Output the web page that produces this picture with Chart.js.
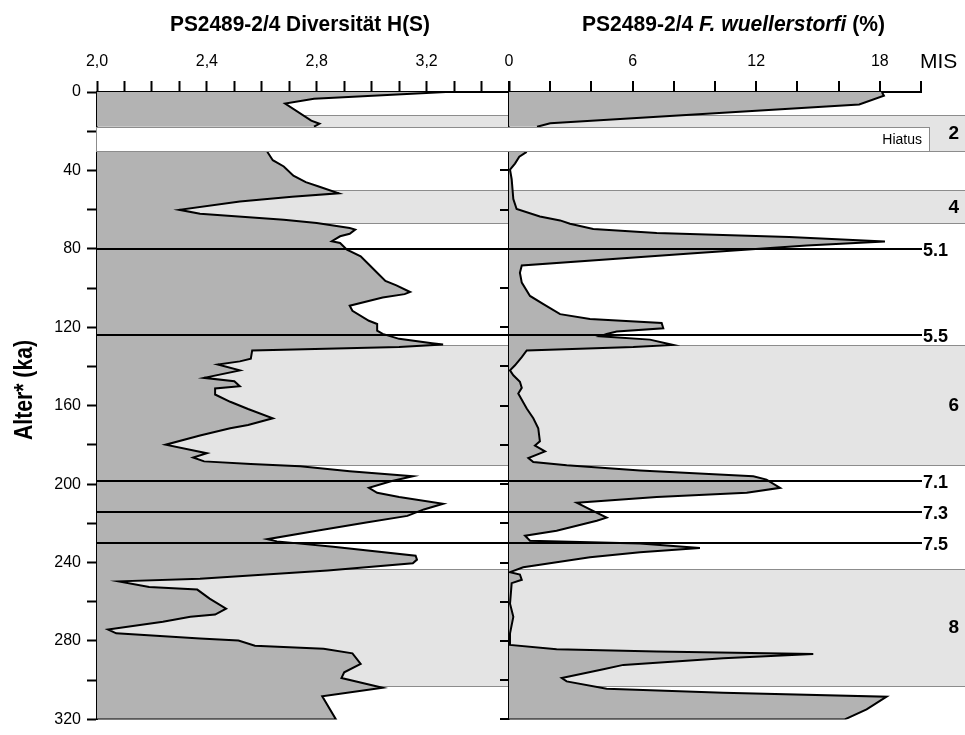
<!DOCTYPE html>
<html lang="de">
<head>
<meta charset="utf-8">
<title>PS2489-2/4</title>
<script src="https://cdn.jsdelivr.net/npm/chart.js@4.4.1/dist/chart.umd.min.js"></script>
<style>
  html, body { margin: 0; padding: 0; background: #fff; }
</style>
</head>
<body>
<canvas id="chart" width="965" height="735"></canvas>
<script>
// Alter (ka) und Shannon-Diversität H(S); null = Hiatus
const divAge = [0, 3.5, 5.9, 14.6, 16.2, 17.7, 24, 30.5, 34.8, 38, 42.7, 46, 48.3, 51.7, 53.4, 55.9, 60.1, 62.1,
  65.2, 66.8, 69.4, 70.2, 72.3, 73.6, 76.1, 77, 80.4, 83.8, 88, 92.2, 96.4, 98.6, 102, 103.1, 104.8, 109, 111.6,
  116.7, 118.3, 121.7, 123.4, 125.9, 128.1, 128.8, 130.1, 131.8, 136, 137.4, 139, 142, 145.8, 147.5, 150.1, 151.2,
  154.3, 158, 161.7, 166.4, 169.8, 171.5, 175.2, 179.9, 184.2, 186.4, 188.4, 189.7, 190.9, 193.4, 196, 198.5,
  201.9, 204.4, 206.6, 210, 212.9, 216.2, 219.6, 223.8, 228.1, 229.2, 231.9, 236.5, 238.5, 240.4, 244, 248.3,
  249.6, 252.5, 253.8, 258.4, 263.5, 266.5, 267.7, 270.2, 274.1, 276.1, 278.7, 279.8, 282.4, 284, 286.3, 291.7,
  296, 298.9, 303.9, 308.2, 320];
const divH = [3.27, 2.79, 2.685, 2.78, 2.81, 2.79, null, 2.62, 2.64, 2.68, 2.715, 2.76, 2.81, 2.88, 2.71, 2.52, 2.30, 2.375,
  2.68, 2.80, 2.92, 2.94, 2.92, 2.885, 2.855, 2.885, 2.91, 2.96, 2.99, 3.02, 3.05, 3.09, 3.14, 3.12, 3.04, 2.92, 2.93,
  2.99, 3.02, 3.02, 3.04, 3.10, 3.22, 3.26, 3.10, 2.565, 2.56, 2.52, 2.44, 2.52, 2.39, 2.50, 2.52, 2.43,
  2.43, 2.485, 2.55, 2.64, 2.55, 2.485, 2.375, 2.25, 2.40, 2.35, 2.39, 2.56, 2.74, 2.92, 3.15, 3.07,
  2.99, 3.02, 3.10, 3.26, 3.19, 3.13, 2.98, 2.80, 2.62, 2.655, 2.86, 3.16, 3.165, 3.15, 2.84, 2.375,
  2.08, 2.19, 2.365, 2.41, 2.47, 2.43, 2.34, 2.24, 2.04, 2.07, 2.375, 2.515, 2.575, 2.825, 2.93, 2.96,
  2.90, 2.89, 3.04, 2.82, 2.87];

// Alter (ka) und Anteil F. wuellerstorfi (%); null = Hiatus
const wuelAge = [0, 1.9, 6.4, 15.9, 17.7, 24, 30.5, 33, 36.5, 39.6, 44.5, 54.6, 59.7, 63.5, 65.5, 67.2, 69.9, 71.9,
  73.9, 76.3, 78.3, 82.4, 88.5, 92.2, 97.2, 104, 108.2, 113.3, 115.8, 117.8, 120.5, 122.2, 123.4, 124.6, 126.3,
  129, 130.1, 131.8, 135.2, 139.4, 142, 144.5, 147.8, 150.9, 153.8, 161.4, 166.4, 171.5, 178.2, 180.3, 183.3,
  186.7, 188.7, 190.4, 193.1, 196, 197.7, 201.9, 204.4, 206.6, 209.5, 212.9, 217.1, 218.7, 223.8, 226.3, 228.9,
  230.3, 232.6, 234.8, 237.3, 242.4, 244.9, 246.1, 248.8, 250.5, 261, 267.7, 276.1, 282, 284.2, 285.4, 286.6,
  288.8, 292.2, 294.4, 298.9, 300.6, 304.4, 306.4, 308.4, 314.9, 320];
const wuelPct = [18.1, 18.2, 17.0, 2.0, 1.36, null, 0.86, 0.5, 0.29, 0.05, 0.13, 0.21, 0.37, 1.5, 2.48, 2.96, 4.09, 7.17,
  13.6, 18.25, 14.45, 8.8, 0.62, 0.53, 0.62, 1.02, 1.67, 2.48, 3.93, 7.41, 7.49, 5.23, 4.74, 4.42, 6.84,
  7.97, 6.03, 0.86, 0.62, 0.29, 0.05, 0.21, 0.53, 0.62, 0.45, 0.86, 1.18, 1.42, 1.5, 1.26, 1.75,
  0.94, 1.18, 2.8, 6.36, 11.86, 12.5, 13.16, 11.54, 7.17, 3.29, 3.93, 4.74, 4.26, 2.31, 0.78, 1.02,
  6.36, 9.27, 6.36, 3.93, 0.69, 0.05, 0.53, 0.62, 0.13, 0.05, 0.21, 0.05, 0.05, 2.31, 7.17, 14.77,
  10.4, 5.55, 4.58, 2.56, 2.8, 4.74, 10.4, 18.33, 17.36, 16.3];

// Achsen und beschriftete Ticks
const AGE_MIN = 0, AGE_MAX = 320;
const H_MIN = 2.0, H_MAX = 3.5;
const PCT_MIN = 0, PCT_MAX = 20;
const ageTickLabels = [0, 40, 80, 120, 160, 200, 240, 280, 320];
const hTickLabels = [2.0, 2.4, 2.8, 3.2];
const pctTickLabels = [0, 6, 12, 18];

// Marine Isotopenstadien: Glaziale als Bänder, Substadien als Linien
const misBandLabels = ['2', '4', '6', '8'];
const misBandTop = [11.6, 50, 129.1, 243.1];
const misBandBottom = [30.3, 66.8, 190.3, 302.8];
const misEventLabels = ['5.1', '5.5', '7.1', '7.3', '7.5'];
const misEventAge = [80, 124, 198.5, 214, 230];
const hiatusAge = [17.7, 30.3];

const FONT = "'Liberation Sans', Arial, sans-serif";

const toPoints = (ages, vals, base) =>
  ages.map((a, i) => ({ x: vals[i], y: a })).concat([{ x: base, y: AGE_MAX }]);

// Text horizontal gestaucht auf eine Zielbreite zeichnen (schmale Schrift)
function drawFitted(ctx, parts, x, y, width) {
  let total = 0;
  parts.forEach(p => { ctx.font = p.font; total += ctx.measureText(p.text).width; });
  ctx.save();
  ctx.translate(x, y);
  ctx.scale(width / total, 1);
  ctx.textAlign = 'left';
  let cx = 0;
  parts.forEach(p => {
    ctx.font = p.font;
    ctx.fillText(p.text, cx, 0);
    cx += ctx.measureText(p.text).width;
  });
  ctx.restore();
}

const panelDecor = {
  id: 'panelDecor',
  beforeDraw(chart) {
    const { ctx, chartArea: a, scales: { y } } = chart;
    ctx.save();
    ctx.fillStyle = '#fff';
    ctx.fillRect(0, 0, chart.width, chart.height);
    misBandLabels.forEach((lab, i) => {
      const t = Math.round(y.getPixelForValue(misBandTop[i]));
      const b = Math.round(y.getPixelForValue(misBandBottom[i]));
      ctx.fillStyle = '#e4e4e4';
      ctx.fillRect(a.left, t, chart.width - a.left, b - t);
      ctx.strokeStyle = '#8c8c8c';
      ctx.lineWidth = 1;
      ctx.beginPath();
      ctx.moveTo(a.left, t + 0.5); ctx.lineTo(chart.width, t + 0.5);
      ctx.moveTo(a.left, b + 0.5); ctx.lineTo(chart.width, b + 0.5);
      ctx.stroke();
    });
    ctx.restore();
  },
  afterDatasetsDraw(chart) {
    const { ctx, chartArea: a, scales: { y } } = chart;
    ctx.save();
    ctx.strokeStyle = '#000';
    ctx.lineWidth = 2;
    ctx.fillStyle = '#000';
    ctx.font = 'bold 18px ' + FONT;
    ctx.textAlign = 'left';
    ctx.textBaseline = 'middle';
    misEventAge.forEach((age, i) => {
      const py = Math.round(y.getPixelForValue(age));
      ctx.beginPath();
      ctx.moveTo(a.left, py); ctx.lineTo(a.right + 1, py);
      ctx.stroke();
      ctx.fillText(misEventLabels[i], a.right + 2, py + 2);
    });
    ctx.restore();
  },
  afterDraw(chart) {
    const { ctx, chartArea: a, scales: { y, xF } } = chart;
    ctx.save();

    // Ticks an der Nulllinie des rechten Profils
    ctx.strokeStyle = '#000';
    ctx.lineWidth = 2;
    y.ticks.forEach(t => {
      const py = Math.round(y.getPixelForValue(t.value));
      ctx.beginPath();
      ctx.moveTo(xF.left - 9, py); ctx.lineTo(xF.left, py);
      ctx.stroke();
    });

    // Hiatus
    const ht = Math.round(y.getPixelForValue(hiatusAge[0])) + 0.5;
    const hb = Math.round(y.getPixelForValue(hiatusAge[1])) + 0.5;
    ctx.fillStyle = '#fff';
    ctx.fillRect(a.left - 1, ht, a.right + 10 - a.left, hb - ht);
    ctx.strokeStyle = '#8c8c8c';
    ctx.lineWidth = 1;
    ctx.strokeRect(a.left - 0.5, ht, a.right + 9 - a.left, hb - ht);
    ctx.fillStyle = '#000';
    ctx.font = '14px ' + FONT;
    ctx.textAlign = 'right';
    ctx.textBaseline = 'middle';
    ctx.fillText('Hiatus', a.right + 1, (ht + hb) / 2 + 1);

    // MIS-Beschriftung
    ctx.font = 'bold 19px ' + FONT;
    misBandLabels.forEach((lab, i) => {
      const mid = (y.getPixelForValue(misBandTop[i]) + y.getPixelForValue(misBandBottom[i])) / 2;
      ctx.fillText(lab, chart.width - 6, mid + 1);
    });
    ctx.font = '21px ' + FONT;
    ctx.textAlign = 'left';
    ctx.textBaseline = 'alphabetic';
    ctx.fillText('MIS', a.right - 1, 68);

    // Titel
    ctx.fillStyle = '#000';
    ctx.textBaseline = 'alphabetic';
    drawFitted(ctx, [{ text: 'PS2489-2/4 Diversität H(S)', font: 'bold 22px ' + FONT }], 170, 31, 260);
    drawFitted(ctx, [
      { text: 'PS2489-2/4 ', font: 'bold 22px ' + FONT },
      { text: 'F. wuellerstorfi', font: 'italic bold 22px ' + FONT },
      { text: ' (%)', font: 'bold 22px ' + FONT }
    ], 582, 31, 303);

    ctx.save();
    ctx.translate(32, 440);
    ctx.rotate(-Math.PI / 2);
    drawFitted(ctx, [{ text: 'Alter* (ka)', font: 'bold 25px ' + FONT }], 0, 0, 100);
    ctx.restore();

    ctx.restore();
  }
};

const tickFont = { family: FONT, size: 16 };
const isLabelled = (list, v) => list.some(t => Math.abs(t - v) < 1e-6);

new Chart(document.getElementById('chart'), {
  type: 'line',
  data: {
    datasets: [
      {
        data: toPoints(divAge, divH, H_MIN),
        xAxisID: 'xH', yAxisID: 'y',
        borderColor: '#000', borderWidth: 2, backgroundColor: '#b3b3b3',
        fill: 'origin', pointRadius: 0, tension: 0, spanGaps: false
      },
      {
        data: toPoints(wuelAge, wuelPct, PCT_MIN),
        xAxisID: 'xF', yAxisID: 'y',
        borderColor: '#000', borderWidth: 2, backgroundColor: '#b3b3b3',
        fill: 'origin', pointRadius: 0, tension: 0, spanGaps: false
      }
    ]
  },
  options: {
    indexAxis: 'y',
    responsive: false,
    animation: false,
    layout: { padding: { top: 0, right: 44, bottom: 11, left: 0 } },
    plugins: { legend: { display: false }, tooltip: { enabled: false } },
    scales: {
      y: {
        type: 'linear', position: 'left', reverse: true,
        min: AGE_MIN, max: AGE_MAX,
        afterFit: s => { s.width = 97; },
        ticks: {
          stepSize: 20, autoSkip: false, color: '#000', font: tickFont, padding: 6,
          callback: v => isLabelled(ageTickLabels, v) ? String(v) : ''
        },
        grid: { drawOnChartArea: false, tickLength: 10, tickWidth: 2, tickColor: '#000' },
        border: { color: '#000', width: 2 }
      },
      // gestapelte Achsen werden in umgekehrter Reihenfolge platziert: xF zuerst definieren
      xF: {
        type: 'linear', position: 'top', stack: 'panels', stackWeight: 1,
        min: PCT_MIN, max: PCT_MAX,
        afterFit: s => { s.height = 92; },
        ticks: {
          stepSize: 2, autoSkip: false, maxRotation: 0, minRotation: 0,
          color: '#000', font: tickFont, padding: 10,
          callback: v => isLabelled(pctTickLabels, v) ? String(v) : ''
        },
        grid: {
          drawOnChartArea: true, tickLength: 11, tickWidth: 2, tickColor: '#000', lineWidth: 2,
          color: c => (c.tick && c.tick.value === 0) ? '#000' : 'rgba(0,0,0,0)'
        },
        border: { color: '#000', width: 2 }
      },
      xH: {
        type: 'linear', position: 'top', stack: 'panels', stackWeight: 1,
        min: H_MIN, max: H_MAX,
        afterFit: s => { s.height = 92; },
        ticks: {
          stepSize: 0.1, autoSkip: false, maxRotation: 0, minRotation: 0,
          color: '#000', font: tickFont, padding: 10,
          callback: v => isLabelled(hTickLabels, v) ? v.toFixed(1).replace('.', ',') : ''
        },
        grid: { drawOnChartArea: false, tickLength: 11, tickWidth: 2, tickColor: '#000' },
        border: { color: '#000', width: 2 }
      }
    }
  },
  plugins: [panelDecor]
});
</script>
</body>
</html>
